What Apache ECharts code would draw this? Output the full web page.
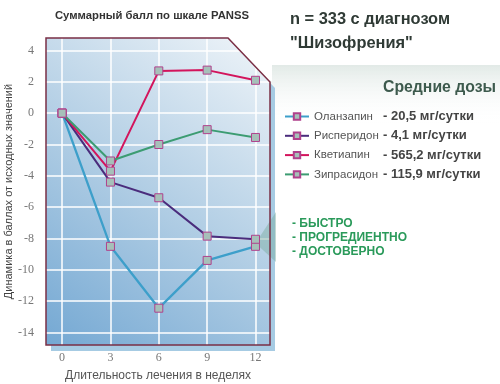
<!DOCTYPE html>
<html><head><meta charset="utf-8">
<script src="https://cdn.jsdelivr.net/npm/echarts@6/dist/echarts.min.js"></script>
<style>html,body{margin:0;padding:0;background:#fff}#c{width:500px;height:384px}</style>
</head><body><div id="c"></div>
<script>
const weeks = [0, 3, 6, 9, 12];
const olanzapine = [0, -8.5, -12.45, -9.4, -8.5];
const risperidone = [0, -4.4, -5.4, -7.85, -8.05];
const quetiapine = [0, -3.7, 2.7, 2.75, 2.1];
const ziprasidone = [0, -3.05, -2.0, -1.05, -1.55];
const drugNames = ['Оланзапин', 'Рисперидон', 'Кветиапин', 'Зипрасидон'];
const doses = ['- 20,5 мг/сутки', '- 4,1 мг/сутки', '- 565,2 мг/сутки', '- 115,9 мг/сутки'];
const yTicks = [-14, -12, -10, -8, -6, -4, -2, 0, 2, 4];
const xTicks = [0, 3, 6, 9, 12];
const notes = ['- БЫСТРО', '- ПРОГРЕДИЕНТНО', '- ДОСТОВЕРНО'];
const chartTitle = 'Суммарный балл по шкале PANSS';
const headLine1 = 'n = 333 с диагнозом';
const headLine2 = '"Шизофрения"';
const legendTitle = 'Средние дозы';
const yName = 'Динамика в баллах от исходных значений';
const xName = 'Длительность лечения в неделях';

const lineColors = ['#3d9fca', '#4a2c7c', '#d3145c', '#3c9c72'];
const lineWidths = [2.3, 2, 2, 2];
const allSeries = [olanzapine, risperidone, quetiapine, ziprasidone];
const SANS = '"Liberation Sans", Arial, sans-serif';
const SERIF = '"Liberation Serif", "Times New Roman", serif';

const chart = echarts.init(document.getElementById('c'), null, {renderer: 'canvas'});
const option = {
  animation: false,
  grid: {left: 46, right: 230, top: 38, bottom: 39, containLabel: false, outerBoundsMode: 'none'},
  xAxis: {
    type: 'value', min: -1, max: 12.9,
    axisLine: {show: false}, axisTick: {show: false, customValues: xTicks},
    axisLabel: {customValues: xTicks, margin: 7, color: '#777', fontFamily: SERIF, fontSize: 12},
    splitLine: {show: true, lineStyle: {color: '#ffffff', width: 1.5}},
    name: xName, nameLocation: 'middle', nameGap: 25,
    nameTextStyle: {color: '#555', fontFamily: SANS, fontSize: 12}
  },
  yAxis: {
    type: 'value', min: -14.8, max: 4.8,
    axisLine: {show: false}, axisTick: {show: false, customValues: yTicks},
    axisLabel: {customValues: yTicks, margin: 12, color: '#777', fontFamily: SERIF, fontSize: 12},
    splitLine: {show: true, lineStyle: {color: '#ffffff', width: 1.5}},
    name: yName, nameLocation: 'middle', nameGap: 31,
    nameTextStyle: {color: '#444', fontFamily: SANS, fontSize: 11}
  },
  legend: {
    orient: 'vertical', left: 279, top: 105, itemWidth: 24, itemHeight: 8, itemGap: 6.3,
    data: drugNames,
    formatter: function (name) { return '{n|' + name + '}{d|' + doses[drugNames.indexOf(name)] + '}'; },
    textStyle: {rich: {
      n: {width: 69, fontSize: 11.5, color: '#555', fontFamily: SANS},
      d: {fontSize: 13, fontWeight: 'bold', color: '#444', fontFamily: SANS}
    }}
  },
  series: allSeries.map(function (arr, i) {
    return {
      type: 'line', name: drugNames[i], z: 3 + i,
      data: weeks.map(function (w, j) { return [w, arr[j]]; }),
      symbol: 'rect', symbolSize: 8,
      lineStyle: {color: lineColors[i], width: lineWidths[i]},
      itemStyle: {color: '#a6c0b9', borderColor: '#b0408c', borderWidth: 1}
    };
  })
};
chart.setOption(option);

const p = function (x, y) { return chart.convertToPixel({gridIndex: 0}, [x, y]); };
const tl = p(-1, 4.8), br = p(12.9, -14.8);
const L = tl[0], T = tl[1], R = br[0], B = br[1];
const cx = 42, cy = 44;
const framePts = [[L, T], [R - cx, T], [R, T + cy], [R, B], [L, B]];
const shadowPts = framePts.map(function (q) { return [q[0] + 5, q[1] + 6]; });
const beamTip = p(12, -8.3);

chart.setOption({graphic: [
  {type: 'rect', z: -20, shape: {x: R, y: 65, width: 500 - R, height: 60},
    style: {fill: new echarts.graphic.LinearGradient(0, 0, 0, 1, [
      {offset: 0, color: '#e2eae7'}, {offset: 1, color: 'rgba(255,255,255,0)'}])}},
  {type: 'polygon', z: -15, shape: {points: shadowPts}, style: {fill: '#a6cbe3'}},
  {type: 'polygon', z: -10, shape: {points: framePts},
    style: {fill: new echarts.graphic.LinearGradient(0, 1, 1, 0, [
      {offset: 0, color: '#74a8d3'}, {offset: 0.45, color: '#adcbe3'}, {offset: 1, color: '#f0f5f9'}])}},
  {type: 'polygon', z: 1, shape: {points: [[R - cx, T - 2], [R + 2, T - 2], [R + 2, T + cy]]}, style: {fill: '#ffffff'}},
  {type: 'polygon', z: 1, shape: {points: [[beamTip[0], beamTip[1]], [R + 6, 212], [R + 6, 262]]},
    style: {fill: 'rgba(120,170,158,0.45)'}},
  {type: 'polygon', z: 1, shape: {points: framePts}, style: {fill: null, stroke: '#7a2f45', lineWidth: 1.5}},
  {type: 'text', z: 5, style: {text: chartTitle, x: 152, y: 16, textAlign: 'center', textVerticalAlign: 'middle',
    font: 'bold 11.3px ' + SANS, fill: '#333'}},
  {type: 'text', z: 5, style: {text: headLine1, x: 290, y: 19, textAlign: 'left', textVerticalAlign: 'middle',
    font: 'bold 16.4px ' + SANS, fill: '#2f3a35'}},
  {type: 'text', z: 5, style: {text: headLine2, x: 290, y: 43, textAlign: 'left', textVerticalAlign: 'middle',
    font: 'bold 16.4px ' + SANS, fill: '#2f3a35'}},
  {type: 'text', z: 5, style: {text: legendTitle, x: 383, y: 88, textAlign: 'left', textVerticalAlign: 'middle',
    font: 'bold 15.8px ' + SANS, fill: '#3d5a4d'}}
].concat(notes.map(function (t, i) {
  return {type: 'text', z: 5, style: {text: t, x: 292, y: 223.5 + i * 14, textAlign: 'left', textVerticalAlign: 'middle',
    font: 'bold 12px ' + SANS, fill: '#2a9a5a'}};
}))});
</script>
</body></html>
